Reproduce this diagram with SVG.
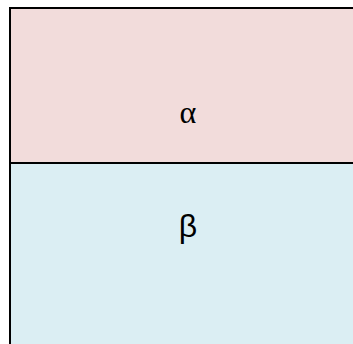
<svg xmlns="http://www.w3.org/2000/svg" width="353" height="344" viewBox="0 0 353 344">
<style>
.lbl{font-size:32px;fill:#000;text-anchor:middle}
.serif{font-family:"Liberation Serif","Times New Roman",serif}
.sans{font-family:"Liberation Sans",Arial,sans-serif}
.edge{stroke:#000;stroke-width:2;fill:none}
</style>
<rect width="353" height="344" fill="#fff"/>
<g id="alpha">
<rect x="10" y="8" width="343" height="155" fill="#f2dcdb"/>
<text class="lbl serif" x="188" y="123">α</text>
</g>
<g id="beta">
<rect x="10" y="163" width="343" height="181" fill="#dbeef3"/>
<text class="lbl sans" x="188" y="237">β</text>
</g>
<g id="connectors">
<path class="edge" d="M10,344 V8 H353"/>
<path class="edge" d="M10,163 H353"/>
</g>
</svg>
